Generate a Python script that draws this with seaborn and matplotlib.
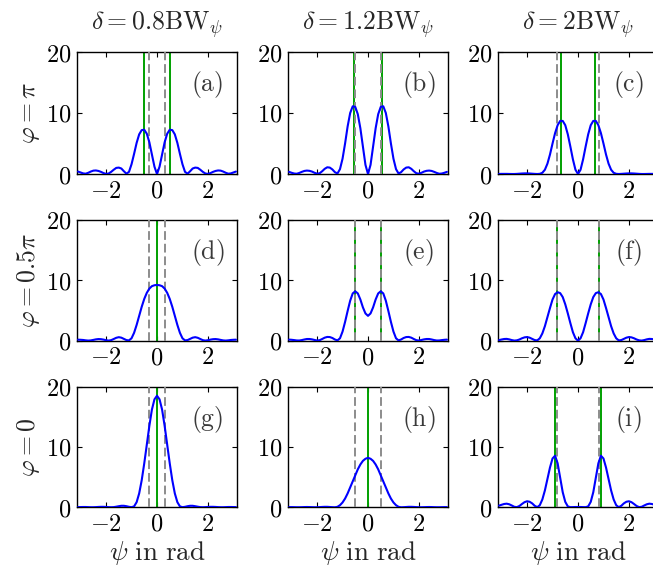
import numpy as np
import pandas as pd
import matplotlib
matplotlib.use("Agg")
import matplotlib.pyplot as plt
import seaborn as sns

# ---------------- data ----------------
psi = np.round(np.linspace(-3.1, 3.1, 63), 1)

y_a = [0.4,0.25,0.1,0.05,0.2,0.4,0.55,0.58,0.5,0.35,0.15,0.02,0.08,0.35,0.7,1.0,1.05,0.9,0.45,0.05,0.35,1.6,3.3,5.1,6.5,7.2,7.25,6.6,5.2,3.2,1.2,
       0.0,
       1.2,3.2,5.2,6.6,7.25,7.2,6.5,5.1,3.3,1.6,0.35,0.05,0.45,0.9,1.05,1.0,0.7,0.35,0.08,0.02,0.15,0.35,0.5,0.58,0.55,0.4,0.2,0.05,0.1,0.25,0.4]
y_b = [0.35,0.2,0.08,0.04,0.17,0.35,0.5,0.56,0.52,0.4,0.2,0.05,0.12,0.45,0.85,1.1,1.05,0.75,0.3,0.08,0.8,2.5,5.0,7.8,10.0,11.1,11.0,9.8,7.5,4.5,1.5,
       0.0,
       1.5,4.5,7.5,9.8,11.0,11.1,10.0,7.8,5.0,2.5,0.8,0.08,0.3,0.75,1.05,1.1,0.85,0.45,0.12,0.05,0.2,0.4,0.52,0.56,0.5,0.35,0.17,0.04,0.08,0.2,0.35]
y_c = [0.01,0.02,0.02,0.02,0.01,0.0,0.0,0.02,0.05,0.08,0.1,0.1,0.08,0.05,0.02,0.0,0.03,0.2,0.7,1.7,3.2,5.0,6.7,8.0,8.7,8.7,8.0,6.5,4.5,2.4,0.7,
       0.0,
       0.7,2.4,4.5,6.5,8.0,8.7,8.7,8.0,6.7,5.0,3.2,1.7,0.7,0.2,0.03,0.0,0.02,0.05,0.08,0.1,0.1,0.08,0.05,0.02,0.0,0.0,0.01,0.02,0.02,0.02,0.01]
y_d = [0.17,0.15,0.12,0.06,0.02,0.05,0.13,0.22,0.27,0.25,0.18,0.08,0.02,0.09,0.28,0.48,0.58,0.5,0.3,0.1,0.05,0.4,1.3,2.6,4.1,5.6,6.9,7.9,8.6,9.0,9.15,
       9.2,
       9.15,9.0,8.6,7.9,6.9,5.6,4.1,2.6,1.3,0.4,0.05,0.1,0.3,0.5,0.58,0.48,0.28,0.09,0.02,0.08,0.18,0.25,0.27,0.22,0.13,0.05,0.02,0.06,0.12,0.15,0.17]
y_e = [0.18,0.15,0.1,0.04,0.03,0.1,0.2,0.28,0.28,0.22,0.12,0.03,0.08,0.28,0.5,0.62,0.6,0.45,0.2,0.05,0.4,1.5,3.1,4.9,6.6,7.8,8.15,7.8,6.8,5.5,4.5,
       4.1,
       4.5,5.5,6.8,7.8,8.15,7.8,6.6,4.9,3.1,1.5,0.4,0.05,0.2,0.45,0.6,0.62,0.5,0.28,0.08,0.03,0.12,0.22,0.28,0.28,0.2,0.1,0.03,0.04,0.1,0.15,0.18]
y_f = [0.1,0.2,0.28,0.3,0.22,0.1,0.02,0.06,0.2,0.4,0.55,0.6,0.5,0.3,0.1,0.05,0.4,1.2,2.4,3.9,5.4,6.8,7.7,8.0,7.85,7.2,6.0,4.5,2.9,1.4,0.4,
       0.0,
       0.4,1.4,2.9,4.5,6.0,7.2,7.85,8.0,7.7,6.8,5.4,3.9,2.4,1.2,0.4,0.05,0.1,0.3,0.5,0.6,0.55,0.4,0.2,0.06,0.02,0.1,0.22,0.3,0.28,0.2,0.1]
y_g = [0.03,0.04,0.05,0.05,0.03,0.01,0.01,0.03,0.06,0.08,0.08,0.06,0.03,0.01,0.03,0.1,0.18,0.25,0.25,0.18,0.08,0.02,0.15,0.85,2.3,4.5,7.3,10.4,13.5,16.2,17.9,
       18.5,
       17.9,16.2,13.5,10.4,7.3,4.5,2.3,0.85,0.15,0.02,0.08,0.18,0.25,0.25,0.18,0.1,0.03,0.01,0.03,0.06,0.08,0.08,0.06,0.03,0.01,0.01,0.03,0.05,0.05,0.04,0.03]
y_h = [0.03,0.03,0.02,0.01,0.01,0.02,0.04,0.05,0.04,0.02,0.01,0.01,0.03,0.06,0.08,0.08,0.05,0.02,0.0,0.08,0.35,0.8,1.45,2.3,3.3,4.3,5.3,6.3,7.1,7.7,8.05,
       8.2,
       8.05,7.7,7.1,6.3,5.3,4.3,3.3,2.3,1.45,0.8,0.35,0.08,0.0,0.02,0.05,0.08,0.08,0.06,0.03,0.01,0.01,0.02,0.04,0.05,0.04,0.02,0.01,0.01,0.02,0.03,0.03]
y_i = [0.28,0.42,0.55,0.6,0.5,0.3,0.08,0.03,0.22,0.55,0.85,1.0,0.92,0.65,0.25,0.02,0.35,1.3,2.8,4.7,6.6,8.1,8.55,7.3,4.9,2.5,0.9,0.15,0.02,0.03,0.05,
       0.05,
       0.05,0.03,0.02,0.15,0.9,2.5,4.9,7.3,8.55,8.1,6.6,4.7,2.8,1.3,0.35,0.02,0.25,0.65,0.92,1.0,0.85,0.55,0.22,0.03,0.08,0.3,0.5,0.6,0.55,0.42,0.28]

curves = [[y_a, y_b, y_c], [y_d, y_e, y_f], [y_g, y_h, y_i]]

# green lines: estimated peak positions, dashed gray: +-delta/2
green_pos = [[[-0.53, 0.53], [-0.56, 0.56], [-0.66, 0.66]],
             [[0.0], [-0.5, 0.5], [-0.83, 0.83]],
             [[0.0], [0.0], [-0.91, 0.91]]]
dash_pos = [[-0.33, 0.33], [-0.5, 0.5], [-0.83, 0.83]]

panel_labels = [["(a)", "(b)", "(c)"], ["(d)", "(e)", "(f)"], ["(g)", "(h)", "(i)"]]
col_titles = [r"$\delta=0.8\mathrm{BW}_\psi$", r"$\delta=1.2\mathrm{BW}_\psi$", r"$\delta=2\mathrm{BW}_\psi$"]
row_titles = [r"$\varphi=\pi$", r"$\varphi=0.5\pi$", r"$\varphi=0$"]
xlabel = r"$\psi\ \mathrm{in\ rad}$"
xticks = [-2, 0, 2]
xticklabels = [r"$-2$", r"$0$", r"$2$"]
yticks = [0, 10, 20]
yticklabels = [r"$0$", r"$10$", r"$20$"]

# ---------------- style ----------------
sns.set_theme(style="ticks")
plt.rcParams.update({
    "mathtext.fontset": "cm",
    "font.family": ["DejaVu Serif"],
    "xtick.direction": "in",
    "ytick.direction": "in",
    "xtick.top": True,
    "ytick.right": True,
    "axes.linewidth": 1.0,
    "axes.edgecolor": "black",
})

W, H = 653, 574
fig = plt.figure(figsize=(W / 100, H / 100), dpi=100)
lefts = [77, 288, 498]
tops = [52, 219.5, 386.7]
heights = [122, 121.2, 120.6]
width = 160
FS_TICK = 17.5
FS_LAB = 18.5

for r in range(3):
    for c in range(3):
        ax = fig.add_axes([lefts[c] / W, 1 - (tops[r] + heights[r]) / H, width / W, heights[r] / H])
        for g in green_pos[r][c]:
            ax.axvline(g, color="#00a000", lw=1.4, zorder=2)
        for d in dash_pos[c]:
            ax.axvline(d, color="#8c8c8c", lw=1.4, ls=(0, (4.5, 2)), zorder=3)
        df = pd.DataFrame({"psi": psi, "val": curves[r][c]})
        sns.lineplot(data=df, x="psi", y="val", ax=ax, color="#0000ff", linewidth=1.5, zorder=4)
        ax.set_xlim(-np.pi, np.pi)
        ax.set_ylim(0, 20)
        ax.set_xticks(xticks)
        ax.set_xticklabels(xticklabels)
        ax.set_yticks(yticks)
        ax.set_yticklabels(yticklabels)
        ax.tick_params(axis="both", which="major", length=3.5, width=0.8, labelsize=FS_TICK, colors="black")
        ax.tick_params(axis="x", pad=4)
        ax.tick_params(axis="y", pad=4)
        ax.set_xlabel("")
        ax.set_ylabel("")
        ax.text(0.815, 0.73, r"$\mathrm{" + panel_labels[r][c] + "}$", transform=ax.transAxes,
                ha="center", va="center", fontsize=FS_LAB, color="#3a3a3a")
        for s in ax.spines.values():
            s.set_visible(True)
            s.set_color("black")

for c in range(3):
    xc = (lefts[c] + width / 2) / W
    fig.text(xc, 1 - 25 / H, col_titles[c], ha="center", va="center", fontsize=FS_LAB)
    fig.text(xc, 1 - 553 / H, xlabel, ha="center", va="center", fontsize=FS_LAB + 1)
for r in range(3):
    yc = 1 - (tops[r] + heights[r] / 2) / H
    fig.text(29 / W, yc, row_titles[r], ha="center", va="center", rotation=90, fontsize=FS_LAB)

fig.savefig("out.png", dpi=100)
